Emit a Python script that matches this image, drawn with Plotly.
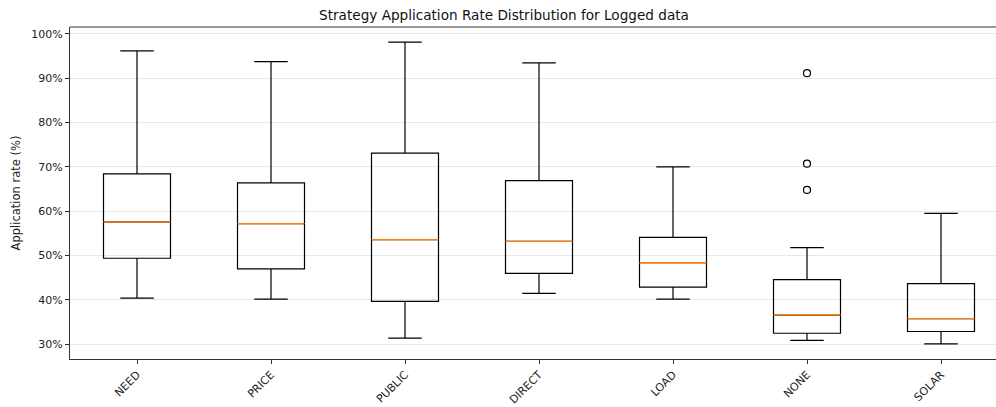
import plotly.graph_objects as go

# Box statistics per strategy (application rate, %)
strategies = ["NEED", "PRICE", "PUBLIC", "DIRECT", "LOAD", "NONE", "SOLAR"]
lower_whisker = [40.4, 40.2, 31.4, 41.5, 40.2, 30.9, 30.1]
q1 = [49.4, 47.0, 39.7, 46.0, 42.9, 32.5, 32.9]
median = [57.6, 57.2, 53.6, 53.2, 48.4, 36.6, 35.8]
q3 = [68.4, 66.4, 73.1, 66.9, 54.1, 44.6, 43.7]
upper_whisker = [96.1, 93.7, 98.1, 93.4, 70.0, 51.8, 59.5]

# Points beyond the whiskers
outlier_strategy = ["NONE", "NONE", "NONE"]
outlier_values = [91.1, 70.7, 64.8]

y_ticks = [30, 40, 50, 60, 70, 80, 90, 100]

positions = list(range(1, len(strategies) + 1))
pos_of = dict(zip(strategies, positions))
box_width = 0.5

fig = go.Figure()

fig.add_trace(go.Box(
    x=positions,
    q1=q1, median=median, q3=q3,
    lowerfence=lower_whisker, upperfence=upper_whisker,
    width=box_width,
    whiskerwidth=0.5,
    boxpoints=False,
    fillcolor="rgba(255,255,255,0)",
    line=dict(color="black", width=1.2),
    hoverinfo="skip",
    showlegend=False,
))

# Orange median lines on top of each box
mx, my = [], []
for p, m in zip(positions, median):
    mx += [p - box_width / 2, p + box_width / 2, None]
    my += [m, m, None]
fig.add_trace(go.Scatter(
    x=mx, y=my, mode="lines",
    line=dict(color="#ff7f0e", width=1.4),
    hoverinfo="skip", showlegend=False,
))

fig.add_trace(go.Scatter(
    x=[pos_of[s] for s in outlier_strategy], y=outlier_values,
    mode="markers",
    marker=dict(symbol="circle-open", size=7, color="black",
                line=dict(width=1.2, color="black")),
    hoverinfo="skip", showlegend=False,
))

fig.update_layout(
    width=996, height=407,
    margin=dict(l=70, r=0, t=27, b=44),
    paper_bgcolor="white", plot_bgcolor="white",
    font=dict(family="DejaVu Sans", size=11, color="#222"),
    title=dict(text="Strategy Application Rate Distribution for Logged data",
               x=0.506, xanchor="center", y=0.963, yanchor="middle",
               font=dict(size=13.6, color="#111")),
    xaxis=dict(
        range=[0.5, 0.5 + 926 / 134],
        tickmode="array", tickvals=positions, ticktext=strategies,
        tickangle=-45,
        ticks="outside", ticklen=4, tickcolor="#333",
        showline=True, linecolor="#333", linewidth=1,
        showgrid=False, zeroline=False,
        tickfont=dict(size=11),
    ),
    yaxis=dict(
        range=[26.7, 101.5],
        tickmode="array", tickvals=y_ticks,
        ticktext=[f"{v}%" for v in y_ticks],
        ticks="outside", ticklen=4, tickcolor="#333",
        showline=True, linecolor="#333", linewidth=1,
        showgrid=True, gridcolor="#e8e8e8", gridwidth=1,
        zeroline=False,
        title=dict(text="Application rate (%)", font=dict(size=11.5), standoff=8),
        tickfont=dict(size=11),
    ),
    shapes=[dict(type="line", xref="paper", yref="paper",
                 x0=0, x1=1, y0=1, y1=1,
                 line=dict(color="#333", width=1))],
)

fig.write_html("out.html")
